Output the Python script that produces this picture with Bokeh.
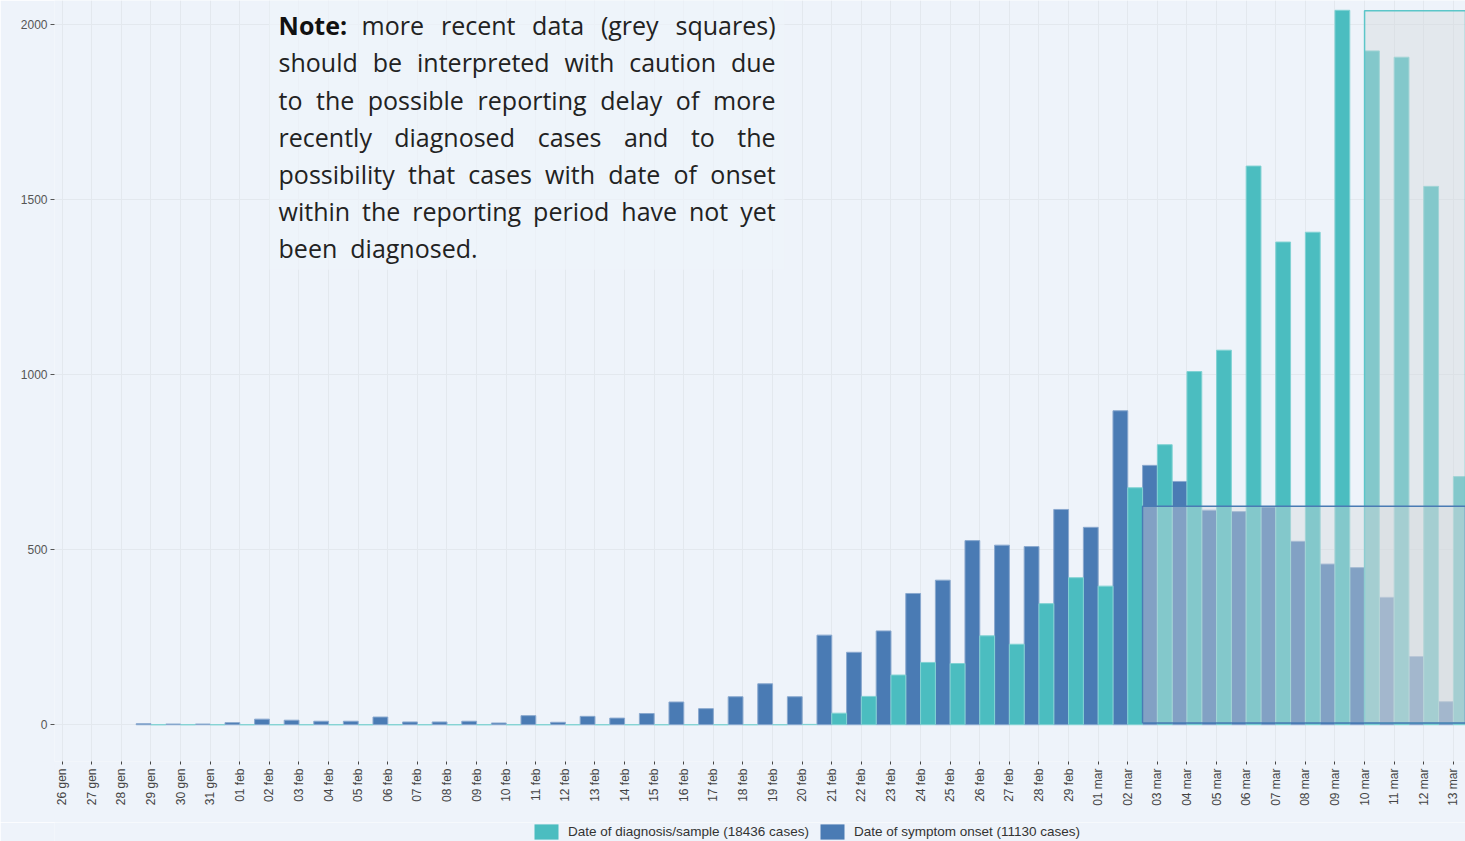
import numpy as np
from bokeh.plotting import figure
from bokeh.layouts import column
from bokeh.models import (ColumnDataSource, FixedTicker, Range1d, Legend, LegendItem,
                          BoxAnnotation, Label)
from bokeh.transform import dodge
from bokeh.embed import file_html
from bokeh.resources import INLINE

# ---------------- data ----------------
dates = ["26 gen", "27 gen", "28 gen", "29 gen", "30 gen", "31 gen",
         "01 feb", "02 feb", "03 feb", "04 feb", "05 feb", "06 feb", "07 feb",
         "08 feb", "09 feb", "10 feb", "11 feb", "12 feb", "13 feb", "14 feb",
         "15 feb", "16 feb", "17 feb", "18 feb", "19 feb", "20 feb", "21 feb",
         "22 feb", "23 feb", "24 feb", "25 feb", "26 feb", "27 feb", "28 feb",
         "29 feb", "01 mar", "02 mar", "03 mar", "04 mar", "05 mar", "06 mar",
         "07 mar", "08 mar", "09 mar", "10 mar", "11 mar", "12 mar", "13 mar"]

nan = float("nan")
onset = [nan, nan, nan, 3, 2, 2,
         6, 16, 13, 10, 10, 22, 8,
         8, 10, 5, 26, 7, 24, 19,
         32, 65, 46, 80, 117, 80, 256,
         207, 268, 375, 413, 526, 513, 509,
         615, 564, 897, 741, 695, 613, 609,
         622, 524, 459, 449, 364, 195, 66]

diagnosis = [nan, nan, nan, 0, 0, 0,
             0, 0, 0, 0, 0, 0, 0,
             0, 0, 0, 0, 0, 0, 0,
             0, 0, 0, 0, 0, 1, 33,
             81, 142, 178, 175, 254, 230, 346,
             420, 396, 677, 800, 1009, 1070, 1596,
             1379, 1407, 2041, 1925, 1907, 1538, 709]

series_labels = ["Date of diagnosis/sample (18436 cases)",
                 "Date of symptom onset (11130 cases)"]
y_ticks = [0, 500, 1000, 1500, 2000]

# periods flagged as "recent" (grey squares)
onset_recent_from = "03 mar"
onset_box_top = 624
diag_recent_from = "10 mar"
diag_box_top = 2040

note_first_bold = "Note:"
note_first_rest = "more recent data (grey squares)"
note_lines = ["should be interpreted with caution due",
              "to the possible reporting delay of more",
              "recently diagnosed cases  and to the",
              "possibility that  cases with date of onset",
              "within the reporting period have not yet",
              "been  diagnosed."]

# ---------------- styling ----------------
BG = "#eef3fa"
TEAL = "#4bbdc0"
BLUE = "#4a7bb4"
GRID = "#e3e8ee"
NOTE_FONT = "Open Sans"
NOTE_SIZE = 25

W, H_MAIN, H_LEG = 1465, 822, 19
BORDER_LEFT = 54
X0, X1 = -0.26, 47.41
px_per_x = (W - BORDER_LEFT) / (X1 - X0)

idx = list(range(len(dates)))
src = ColumnDataSource(dict(x=idx, onset=onset, diagnosis=diagnosis, date=dates))

p = figure(width=W, height=H_MAIN, output_backend="svg", toolbar_location=None,
           x_range=Range1d(X0, X1), y_range=Range1d(-105, 2069),
           min_border_left=BORDER_LEFT, min_border_right=0, min_border_top=0,
           min_border_bottom=61)
p.background_fill_color = BG
p.border_fill_color = BG
p.outline_line_color = None

r_onset = p.vbar(x=dodge("x", -0.25), top="onset", width=0.5, source=src,
                 fill_color=BLUE, line_color="#8aa9cf", line_width=1)
r_diag = p.vbar(x=dodge("x", 0.25), top="diagnosis", width=0.5, source=src,
                fill_color=TEAL, line_color="#80d2d3", line_width=1)

# grey boxes marking recent data
i_diag = dates.index(diag_recent_from)
i_onset = dates.index(onset_recent_from)
diag_box = BoxAnnotation(left=i_diag, bottom=5, top=diag_box_top,
                         fill_color="#d4d7da", fill_alpha=0.41,
                         line_color="#5cc6c9", line_alpha=1.0, line_width=1.5)
onset_box = BoxAnnotation(left=i_onset - 0.5, bottom=5, top=onset_box_top,
                          fill_color="#d4d7da", fill_alpha=0.41,
                          line_color=BLUE, line_alpha=1.0, line_width=1.5)
p.add_layout(diag_box)
p.add_layout(onset_box)

# axes
xt = FixedTicker(ticks=idx)
p.xaxis.ticker = xt
p.xaxis.major_label_overrides = {i: d for i, d in enumerate(dates)}
p.xaxis.major_label_orientation = np.pi / 2
p.xaxis.axis_line_color = None
p.xaxis.major_tick_out = 3
p.xaxis.major_tick_in = 0
p.xaxis.minor_tick_line_color = None
p.xaxis.major_tick_line_color = "#444444"
p.xaxis.major_label_text_font = "Liberation Sans"
p.xaxis.major_label_text_font_size = "12px"
p.xaxis.major_label_text_color = "#444444"
p.xaxis.major_label_standoff = 4

p.yaxis.ticker = FixedTicker(ticks=y_ticks)
p.yaxis.axis_line_color = None
p.yaxis.major_tick_out = 4
p.yaxis.major_tick_in = 0
p.yaxis.minor_tick_line_color = None
p.yaxis.major_tick_line_color = "#555555"
p.yaxis.major_label_text_font = "Liberation Sans"
p.yaxis.major_label_text_font_size = "12px"
p.yaxis.major_label_text_color = "#555555"
p.yaxis.major_label_standoff = 3

p.xgrid.ticker = xt
p.xgrid.grid_line_color = GRID
p.ygrid.grid_line_color = GRID

# ---------------- note text (justified, word by word) ----------------
# Open Sans Regular advance widths (units per em = 2048)
OS_W = {" ": 532, "a": 1139, "b": 1255, "c": 975, "d": 1255, "e": 1149, "f": 694,
        "g": 1122, "h": 1257, "i": 518, "j": 518, "k": 1075, "l": 518, "m": 1905,
        "n": 1257, "o": 1237, "p": 1255, "q": 1255, "r": 836, "s": 977, "t": 723,
        "u": 1257, "v": 1026, "w": 1593, "x": 1073, "y": 1028, "z": 954,
        "(": 604, ")": 604, ".": 545, ":": 545}


def text_px(s):
    return sum(OS_W.get(ch, 1150) for ch in s) / 2048.0 * NOTE_SIZE


note_bg = BoxAnnotation(left=7.0, right=24.4, bottom=1300, fill_color=BG,
                        fill_alpha=0.7, line_color=None)
p.add_layout(note_bg)

note_left_x = 7.31          # data x where the note starts
note_width_px = 497         # justified line width
first_rest_offset_px = 83   # where the text after "Note:" starts
line_y0 = 1998
line_step = 106


def add_word(x_px, y, word, bold=False):
    p.add_layout(Label(x=note_left_x + x_px / px_per_x, y=y, text=word,
                       text_font=NOTE_FONT, text_font_size="%dpx" % NOTE_SIZE,
                       text_font_style="bold" if bold else "normal",
                       text_color="#111111" if bold else "#222222",
                       text_baseline="middle", text_align="left"))


def add_line(text, y, start_px, justify=True):
    words = text.split()
    widths = [text_px(w) for w in words]
    avail = note_width_px - start_px
    if justify and len(words) > 1:
        gap = (avail - sum(widths)) / (len(words) - 1)
    else:
        gap = text_px("  ")
    x = start_px
    for w, wd in zip(words, widths):
        add_word(x, y, w)
        x += wd + gap


add_word(0, line_y0, note_first_bold, bold=True)
add_line(note_first_rest, line_y0, first_rest_offset_px)
for k, t in enumerate(note_lines):
    add_line(t, line_y0 - (k + 1) * line_step, 0, justify=(k < len(note_lines) - 1))

# ---------------- legend strip below the chart ----------------
pl = figure(width=W, height=H_LEG, output_backend="svg", toolbar_location=None,
            x_axis_type=None, y_axis_type=None, x_range=Range1d(0, 1),
            y_range=Range1d(0, 1), min_border=0)
pl.background_fill_color = BG
pl.border_fill_color = BG
pl.outline_line_color = None
swatch = ColumnDataSource(dict(x=[-10], top=[0]))   # outside the visible range
lg_diag = pl.vbar(x="x", top="top", width=0.5, source=swatch, fill_color=TEAL, line_color=None)
lg_onset = pl.vbar(x="x", top="top", width=0.5, source=swatch, fill_color=BLUE, line_color=None)
legend = Legend(items=[LegendItem(label=series_labels[0], renderers=[lg_diag]),
                       LegendItem(label=series_labels[1], renderers=[lg_onset])],
                orientation="horizontal", location=(477, 0),
                glyph_width=30, glyph_height=19, label_standoff=7, spacing=8,
                padding=0, margin=0, border_line_color=None,
                background_fill_alpha=0,
                label_text_font="Liberation Sans", label_text_font_size="13.5px",
                label_text_color="#333333")
pl.add_layout(legend)

layout = column(p, pl, spacing=0)
open("out.html", "w").write(file_html(layout, INLINE))
